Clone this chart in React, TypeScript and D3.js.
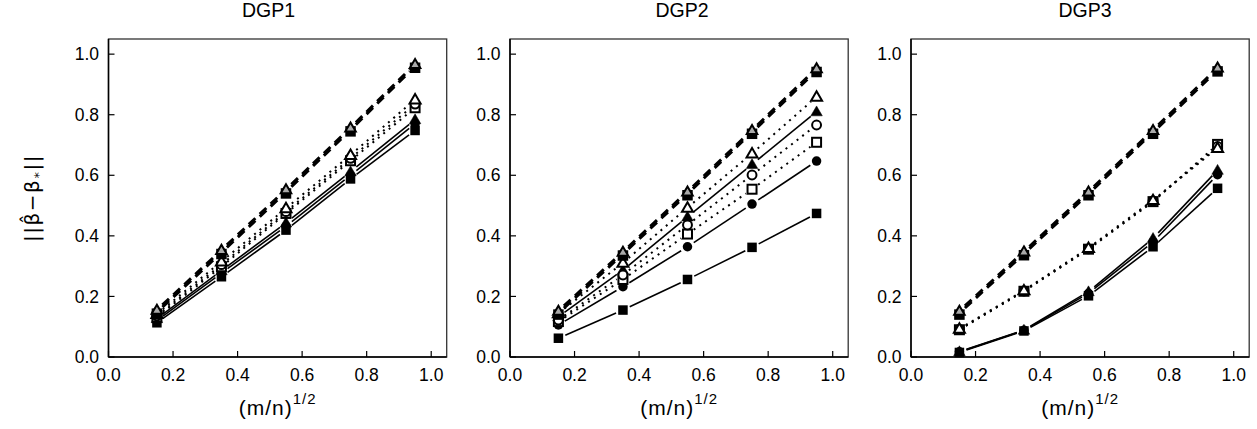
import React from "react";
import * as d3 from "d3";

const W = 1257;
const H = 429;

const xVals = [0.15, 0.35, 0.55, 0.75, 0.95];
const xTicks = [0, 0.2, 0.4, 0.6, 0.8, 1.0];
const yTicks = [0, 0.2, 0.4, 0.6, 0.8, 1.0];
const panelTitles = ["DGP1", "DGP2", "DGP3"];

// series values per panel (DGP1, DGP2, DGP3)
const sqDash = [
  [0.148, 0.345, 0.545, 0.75, 0.96],
  [0.145, 0.34, 0.539, 0.742, 0.946],
  [0.145, 0.341, 0.539, 0.742, 0.948],
];
const triGray = [
  [0.155, 0.353, 0.553, 0.757, 0.967],
  [0.152, 0.347, 0.546, 0.749, 0.953],
  [0.152, 0.348, 0.546, 0.749, 0.955],
];
const triOpen = [
  [0.142, 0.315, 0.491, 0.667, 0.85],
  [0.144, 0.311, 0.493, 0.672, 0.859],
  [0.093, 0.22, 0.36, 0.518, 0.69],
];
const circOpen = [
  [0.136, 0.305, 0.48, 0.656, 0.835],
  [0.122, 0.271, 0.436, 0.601, 0.766],
  [0.091, 0.218, 0.357, 0.515, 0.695],
];
const sqOpen = [
  [0.132, 0.298, 0.474, 0.648, 0.823],
  [0.117, 0.256, 0.406, 0.554, 0.709],
  [0.09, 0.217, 0.356, 0.513, 0.702],
];
const triFill = [
  [0.127, 0.285, 0.443, 0.612, 0.784],
  [0.133, 0.287, 0.463, 0.636, 0.81],
  [0.018, 0.089, 0.216, 0.392, 0.617],
];
const circFill = [
  [0.12, 0.277, 0.432, 0.6, 0.77],
  [0.106, 0.232, 0.364, 0.505, 0.647],
  [0.017, 0.088, 0.21, 0.38, 0.602],
];
const sqFill = [
  [0.113, 0.265, 0.419, 0.588, 0.748],
  [0.062, 0.155, 0.256, 0.362, 0.474],
  [0.015, 0.086, 0.202, 0.364, 0.557],
];

type Shape = "sq" | "circ" | "tri";
interface SeriesDef {
  name: string;
  values: number[][];
  shape: Shape;
  fill: string;
  dash: string | null;
  lw: number;
  size: number;
}

const seriesDefs: SeriesDef[] = [
  { name: "sqFill", values: sqFill, shape: "sq", fill: "#000", dash: null, lw: 1.6, size: 9.5 },
  { name: "circFill", values: circFill, shape: "circ", fill: "#000", dash: null, lw: 1.6, size: 9.5 },
  { name: "triFill", values: triFill, shape: "tri", fill: "#000", dash: null, lw: 1.6, size: 11.5 },
  { name: "sqOpen", values: sqOpen, shape: "sq", fill: "#fff", dash: "2,5", lw: 2, size: 10.5 },
  { name: "circOpen", values: circOpen, shape: "circ", fill: "#fff", dash: "2,5", lw: 2, size: 10.5 },
  { name: "triOpen", values: triOpen, shape: "tri", fill: "#fff", dash: "2,5", lw: 2, size: 12.5 },
  { name: "sqDash", values: sqDash, shape: "sq", fill: "#000", dash: "9,6", lw: 3, size: 10.5 },
  { name: "triGray", values: triGray, shape: "tri", fill: "#aaaaaa", dash: "9,6", lw: 3, size: 12 },
];

const panelLefts = [108.5, 510, 911];
const panelW = 338.2;
const top = 39;
const bottom = 357;
const titleOffsets = [-9, 3, 5];
const FONT = "'Liberation Sans', Arial, Helvetica, sans-serif";

function Marker({ shape, x, y, fill, size }: { shape: Shape; x: number; y: number; fill: string; size: number }) {
  const open = fill !== "#000";
  const sw = open ? 2 : 0;
  if (shape === "sq") {
    const s = open ? size - 1.5 : size;
    return <rect x={x - s / 2} y={y - s / 2} width={s} height={s} fill={fill} stroke="#000" strokeWidth={sw} />;
  }
  if (shape === "circ") {
    const r = open ? size / 2 - 0.8 : size / 2;
    return <circle cx={x} cy={y} r={r} fill={fill} stroke="#000" strokeWidth={sw} />;
  }
  const w = open ? size - 1.5 : size;
  const h = w * 0.86;
  const d = `M${x},${y - h * 0.58} L${x + w / 2},${y + h * 0.42} L${x - w / 2},${y + h * 0.42} Z`;
  return <path d={d} fill={fill} stroke="#000" strokeWidth={open ? 2 : 0.5} strokeLinejoin="miter" />;
}

function Panel({ idx }: { idx: number }) {
  const left = panelLefts[idx];
  const xs = d3.scaleLinear().domain([0, 1.048]).range([left, left + panelW]);
  const ys = d3.scaleLinear().domain([0, 1.05]).range([bottom, top]);
  const gap = 7.5;

  const segs: React.ReactNode[] = [];
  const marks: React.ReactNode[] = [];
  seriesDefs.forEach((s) => {
    const vals = s.values[idx];
    const pts = xVals.map((xv, i) => [xs(xv), ys(vals[i])] as [number, number]);
    for (let i = 0; i < pts.length - 1; i++) {
      const [x1, y1] = pts[i];
      const [x2, y2] = pts[i + 1];
      const dx = x2 - x1;
      const dy = y2 - y1;
      const L = Math.sqrt(dx * dx + dy * dy);
      if (L < 2 * gap + 1) continue;
      const ux = dx / L;
      const uy = dy / L;
      const line = d3.line()([
        [x1 + ux * gap, y1 + uy * gap],
        [x2 - ux * gap, y2 - uy * gap],
      ]);
      segs.push(
        <path
          key={`${s.name}-seg-${i}`}
          d={line || ""}
          fill="none"
          stroke="#000"
          strokeWidth={s.lw}
          strokeDasharray={s.dash || undefined}
          strokeLinecap="butt"
        />
      );
    }
    pts.forEach(([px, py], i) => {
      const yy = s.name === "sqDash" ? py + 1.5 : py;
      marks.push(<Marker key={`${s.name}-m-${i}`} shape={s.shape} x={px} y={yy} fill={s.fill} size={s.size} />);
    });
  });

  const cx = left + panelW / 2;
  return (
    <g>
      <rect x={left} y={top} width={panelW} height={bottom - top} fill="none" stroke="#333" strokeWidth={1.3} />
      <line x1={left} x2={left + panelW} y1={bottom} y2={bottom} stroke="#000" strokeWidth={1.5} />
      <line x1={left} x2={left} y1={top} y2={bottom} stroke="#000" strokeWidth={1.5} />
      {xTicks.map((t) => (
        <g key={`xt${t}`}>
          <line x1={xs(t)} x2={xs(t)} y1={bottom} y2={bottom - 6} stroke="#000" strokeWidth={1.2} />
          <text x={xs(t)} y={381} textAnchor="middle" fontSize={17.5} fontFamily={FONT} fill="#000">
            {t.toFixed(1)}
          </text>
        </g>
      ))}
      {yTicks.map((t) => (
        <g key={`yt${t}`}>
          <line x1={left} x2={left + 6} y1={ys(t)} y2={ys(t)} stroke="#000" strokeWidth={1.2} />
          <text x={left - 9.5} y={ys(t)} dy="0.35em" textAnchor="end" fontSize={17.5} fontFamily={FONT} fill="#000">
            {t.toFixed(1)}
          </text>
        </g>
      ))}
      {segs}
      {marks}
      <text x={cx + titleOffsets[idx]} y={16.5} textAnchor="middle" fontSize={19.5} fontFamily={FONT} fill="#000">
        {panelTitles[idx]}
      </text>
      <text x={cx} y={415} textAnchor="middle" fontFamily={FONT} fill="#000" fontSize={21} letterSpacing={1}>
        <tspan>(m/n)</tspan>
        <tspan fontSize={15} dy={-11}>1/2</tspan>
      </text>
    </g>
  );
}

export default function App() {
  const yMid = (top + bottom) / 2;
  return (
    <svg
      width={W}
      height={H}
      viewBox={`0 0 ${W} ${H}`}
      style={{ display: "block", background: "#fff", position: "absolute", left: 0, top: 0 }}
    >
      <rect x={0} y={0} width={W} height={H} fill="#fff" />
      {[0, 1, 2].map((i) => (
        <Panel key={i} idx={i} />
      ))}
      <g transform={`translate(39,${yMid}) rotate(-90)`}>
        <text textAnchor="middle" fontSize={20} fontFamily="'DejaVu Sans', sans-serif" fill="#000" letterSpacing={1.5}>
          {"||\u03B2\u0302\u2212\u03B2"}
          <tspan fontSize={13} dy={4}>*</tspan>
          <tspan dy={-4}>{"||"}</tspan>
        </text>
      </g>
    </svg>
  );
}
